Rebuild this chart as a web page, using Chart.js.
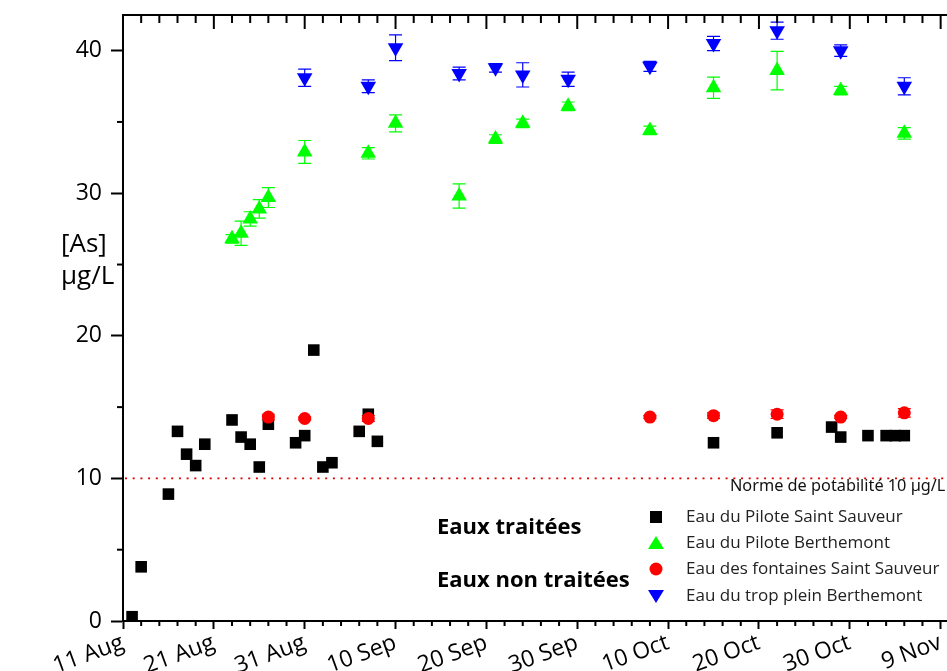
<!DOCTYPE html>
<html>
<head>
<meta charset="utf-8">
<script src="https://cdn.jsdelivr.net/npm/chart.js@4.4.0/dist/chart.umd.min.js"></script>
<style>
  html, body { margin: 0; padding: 0; background: #fff; }
</style>
</head>
<body>
<canvas id="myChart" width="947" height="671"></canvas>
<script>
// x values are days counted from 11 Aug
let tickLabels = ['11 Aug', '21 Aug', '31 Aug', '10 Sep', '20 Sep', '30 Sep', '10 Oct', '20 Oct', '30 Oct', '9 Nov'];

let ssDays = [1, 2, 5, 6, 7, 8, 9, 12, 13, 14, 15, 16, 19, 20, 21, 22, 23, 26, 27, 28, 65, 72, 78, 79, 82, 84, 85, 86];
let ssValues = [0.3, 3.8, 8.9, 13.3, 11.7, 10.9, 12.4, 14.1, 12.9, 12.4, 10.8, 13.8, 12.5, 13.0, 19.0, 10.8, 11.1, 13.3, 14.5, 12.6, 12.5, 13.2, 13.6, 12.9, 13.0, 13.0, 13.0, 13.0];

let bertDays = [12, 13, 14, 15, 16, 20, 27, 30, 37, 41, 44, 49, 58, 65, 72, 79, 86];
let bertValues = [26.8, 27.2, 28.2, 28.9, 29.7, 32.9, 32.8, 34.9, 29.8, 33.8, 34.9, 36.1, 34.4, 37.4, 38.6, 37.2, 34.2];
let bertErr = [0.3, 0.85, 0.5, 0.65, 0.7, 0.8, 0.4, 0.6, 0.85, 0.3, 0.3, 0.3, 0.3, 0.75, 1.35, 0.3, 0.4];

let fontDays = [16, 20, 27, 58, 65, 72, 79, 86];
let fontValues = [14.3, 14.2, 14.2, 14.3, 14.4, 14.5, 14.3, 14.6];
let fontErr = [0.2, 0.1, 0.2, 0.1, 0.2, 0.3, 0.1, 0.3];

let tropDays = [20, 27, 30, 37, 41, 44, 49, 58, 65, 72, 79, 86];
let tropValues = [38.1, 37.5, 40.2, 38.4, 38.8, 38.3, 38.0, 38.9, 40.5, 41.4, 40.0, 37.5];
let tropErr = [0.6, 0.45, 0.9, 0.45, 0.3, 0.85, 0.5, 0.35, 0.5, 0.6, 0.4, 0.6];

let seriesNames = ['Eau du Pilote Saint Sauveur', 'Eau du Pilote Berthemont', 'Eau des fontaines Saint Sauveur', 'Eau du trop plein Berthemont'];
let normeValue = 10;

const toPoints = (days, vals) => days.map((d, i) => ({x: d, y: vals[i]}));

const font = '"Open Sans", Lato, sans-serif';

const decor = {
  id: 'decor',
  beforeDatasetsDraw(chart) {
    const {ctx, chartArea: a, scales: {x, y}} = chart;
    ctx.save();
    // norme line
    const yn = y.getPixelForValue(normeValue);
    ctx.strokeStyle = '#e00000';
    ctx.lineWidth = 1.6;
    ctx.setLineDash([2, 5.7]);
    ctx.beginPath();
    ctx.moveTo(a.left + 2, yn);
    ctx.lineTo(a.right, yn);
    ctx.stroke();
    ctx.setLineDash([]);
    // error bars
    chart.data.datasets.forEach(ds => {
      if (!ds.errorBars) return;
      ctx.strokeStyle = ds.backgroundColor;
      ctx.lineWidth = 1.2;
      ds.data.forEach((p, i) => {
        const e = ds.errorBars[i];
        const px = x.getPixelForValue(p.x);
        const t = y.getPixelForValue(p.y + e);
        const b = y.getPixelForValue(p.y - e);
        ctx.beginPath();
        ctx.moveTo(px, t); ctx.lineTo(px, b);
        ctx.moveTo(px - 6.5, t); ctx.lineTo(px + 6.5, t);
        ctx.moveTo(px - 6.5, b); ctx.lineTo(px + 6.5, b);
        ctx.stroke();
      });
    });
    ctx.restore();
  },
  afterDraw(chart) {
    const {ctx, chartArea: a, scales: {x, y}} = chart;
    ctx.save();
    ctx.strokeStyle = '#000';
    ctx.lineWidth = 2;
    // top axis
    ctx.beginPath();
    ctx.moveTo(a.left - 1, a.top);
    ctx.lineTo(a.right, a.top);
    ctx.stroke();
    for (let d = 0; d <= 90; d += 2) {
      const px = x.getPixelForValue(d);
      const major = d % 10 === 0;
      ctx.beginPath();
      ctx.moveTo(px, a.top);
      ctx.lineTo(px, a.top + (major ? 14 : 8));
      if (!major) {
        ctx.moveTo(px, a.bottom);
        ctx.lineTo(px, a.bottom + 5);
      }
      ctx.stroke();
    }
    for (let v = 5; v < 42; v += 10) {
      const py = y.getPixelForValue(v);
      ctx.beginPath();
      ctx.moveTo(a.left - 6, py);
      ctx.lineTo(a.left, py);
      ctx.stroke();
    }

    // axis title
    ctx.fillStyle = '#000';
    ctx.textBaseline = 'middle';
    ctx.textAlign = 'left';
    ctx.font = '26px ' + font;
    ctx.fillText('[As]', 61, 245);
    ctx.fillText('µg/L', 61, 277);

    // norme label
    ctx.font = '16.3px "Noto Sans", sans-serif';
    ctx.fillStyle = '#111';
    ctx.fillText('Norme de potabilité 10 µg/L', 730, 486);

    // group labels
    ctx.font = 'bold 22px ' + font;
    ctx.fillStyle = '#000';
    ctx.fillText('Eaux traitées', 437, 528);
    ctx.fillText('Eaux non traitées', 437, 581);

    // legend
    const rows = [517, 543, 569, 596];
    const mx = 656;
    ctx.font = '17px ' + font;
    chart.data.datasets.forEach((ds, i) => {
      const cy = rows[i];
      ctx.fillStyle = ds.backgroundColor;
      ctx.beginPath();
      if (ds.pointStyle === 'rect') {
        ctx.rect(mx - 6, cy - 6, 12, 12);
      } else if (ds.pointStyle === 'circle') {
        ctx.arc(mx, cy, 6.5, 0, Math.PI * 2);
      } else if (ds.rotation === 180) {
        ctx.moveTo(mx - 8, cy - 6); ctx.lineTo(mx + 8, cy - 6); ctx.lineTo(mx, cy + 7);
      } else {
        ctx.moveTo(mx - 8, cy + 6); ctx.lineTo(mx + 8, cy + 6); ctx.lineTo(mx, cy - 7);
      }
      ctx.closePath();
      ctx.fill();
      ctx.fillStyle = '#222';
      ctx.fillText(ds.label, 686, cy);
    });
    ctx.restore();
  }
};

const ctx = document.getElementById('myChart').getContext('2d');

const myChart = new Chart(ctx, {
  type: 'scatter',
  data: {
    datasets: [
      {
        label: seriesNames[0],
        data: toPoints(ssDays, ssValues),
        backgroundColor: '#000000',
        borderWidth: 0,
        pointStyle: 'rect',
        pointRadius: 8.2,
        order: 3
      },
      {
        label: seriesNames[1],
        data: toPoints(bertDays, bertValues),
        errorBars: bertErr,
        backgroundColor: '#00ff00',
        borderWidth: 0,
        pointStyle: 'triangle',
        pointRadius: 9,
        order: 2
      },
      {
        label: seriesNames[2],
        data: toPoints(fontDays, fontValues),
        errorBars: fontErr,
        backgroundColor: '#ff0000',
        borderWidth: 0,
        pointStyle: 'circle',
        pointRadius: 6.5,
        order: 1
      },
      {
        label: seriesNames[3],
        data: toPoints(tropDays, tropValues),
        errorBars: tropErr,
        backgroundColor: '#0000ff',
        borderWidth: 0,
        pointStyle: 'triangle',
        rotation: 180,
        pointRadius: 9,
        order: 0
      }
    ]
  },
  options: {
    responsive: false,
    animation: false,
    layout: { autoPadding: false, padding: { top: 15, right: 0, left: 0, bottom: 0 } },
    plugins: {
      legend: { display: false },
      tooltip: { enabled: false }
    },
    scales: {
      x: {
        type: 'linear',
        min: 0,
        max: 90.7,
        afterFit: (scale) => {
          scale.height = 50;
          scale.paddingLeft = 0;
          scale.paddingRight = 0;
        },
        border: { display: true, color: '#000', width: 2 },
        grid: { drawOnChartArea: false, tickLength: 8, tickWidth: 2, tickColor: '#000' },
        ticks: {
          stepSize: 10,
          includeBounds: false,
          autoSkip: false,
          minRotation: 20,
          maxRotation: 20,
          padding: 0,
          color: '#000',
          font: { family: font, size: 23 },
          callback: (value) => tickLabels[Math.round(value / 10)]
        }
      },
      y: {
        min: 0,
        max: 42.5,
        afterFit: (scale) => {
          scale.width = 123;
          scale.paddingTop = 0;
        },
        border: { display: true, color: '#000', width: 2 },
        grid: { drawOnChartArea: false, tickLength: 12, tickWidth: 2, tickColor: '#000' },
        ticks: {
          stepSize: 10,
          includeBounds: false,
          padding: 9,
          color: '#000',
          font: { family: font, size: 23 }
        }
      }
    }
  },
  plugins: [decor]
});
</script>
</body>
</html>
